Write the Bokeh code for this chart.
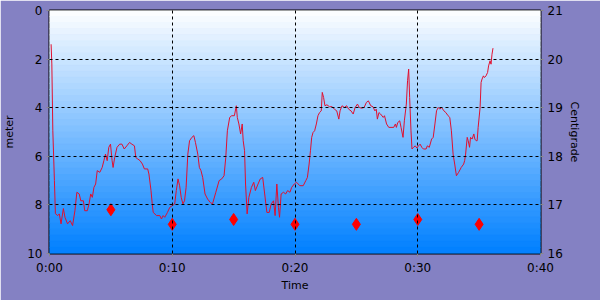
import numpy as np
from bokeh.plotting import figure
from bokeh.models import Range1d, LinearAxis, FixedTicker
from bokeh.embed import file_html
from bokeh.resources import INLINE

# depth profile (minutes, meters)
minutes = [0.13, 0.19, 0.27, 0.40, 0.48, 0.67, 0.80, 0.94, 1.13, 1.26, 1.47, 1.69, 1.88, 2.07, 2.23, 2.42,
           2.55, 2.76, 2.87, 3.08, 3.22, 3.36, 3.49, 3.62, 3.76, 3.89, 4.10, 4.29, 4.43, 4.56, 4.70, 4.83,
           4.97, 5.10, 5.18, 5.31, 5.50, 5.72, 5.90, 6.09, 6.30, 6.52, 6.71, 6.92, 7.03, 7.19, 7.38, 7.57,
           7.73, 8.00, 8.10, 8.27, 8.37, 8.45, 8.72, 8.99, 9.12, 9.26, 9.39, 9.61, 9.80, 10.00, 10.20, 10.33,
           10.47, 10.60, 10.73, 10.87, 11.00, 11.13, 11.27, 11.41, 11.60, 11.76, 11.89, 12.08, 12.21, 12.34,
           12.48, 12.67, 12.88, 13.10, 13.28, 13.55, 13.82, 14.03, 14.22, 14.36, 14.49, 14.68, 14.84, 15.06,
           15.22, 15.30, 15.43, 15.57, 15.70, 15.78, 15.89, 15.97, 16.10, 16.24, 16.45, 16.64, 16.77, 16.99,
           17.17, 17.37, 17.53, 17.71, 17.90, 18.06, 18.25, 18.38, 18.52, 18.65, 18.74, 18.87, 19.06, 19.24,
           19.40, 19.59, 19.73, 19.94, 20.13, 20.39, 20.67, 20.88, 21.01, 21.15, 21.26, 21.36, 21.47, 21.60,
           21.74, 21.87, 22.00, 22.14, 22.22, 22.33, 22.44, 22.60, 22.81, 23.03, 23.21, 23.40, 23.57, 23.67,
           23.83, 24.02, 24.21, 24.37, 24.56, 24.74, 24.90, 25.09, 25.23, 25.44, 25.63, 25.82, 25.98, 26.17,
           26.35, 26.51, 26.62, 26.71, 26.84, 26.97, 27.19, 27.29, 27.46, 27.64, 28.04, 28.18, 28.26, 28.37,
           28.53, 28.64, 28.80, 28.91, 29.07, 29.17, 29.26, 29.34, 29.45, 29.53, 29.66, 29.79, 29.93, 30.06,
           30.19, 30.33, 30.46, 30.68, 30.78, 30.94, 31.13, 31.26, 31.40, 31.53, 31.67, 31.80, 31.94, 32.13,
           32.29, 32.47, 32.61, 32.74, 32.88, 33.01, 33.15, 33.33, 33.54, 33.74, 33.82, 33.90, 34.03, 34.11,
           34.22, 34.30, 34.43, 34.57, 34.65, 34.76, 34.84, 34.92, 35.08, 35.16, 35.24, 35.35, 35.43, 35.56,
           35.69, 35.77, 35.89, 35.97, 36.05, 36.13]
depth = [1.39, 2.20, 4.95, 7.00, 8.36, 8.44, 8.37, 8.78, 8.15, 8.51, 8.78, 8.65, 8.85, 8.24, 7.48, 7.55,
         7.83, 7.83, 8.24, 8.24, 7.96, 7.55, 7.69, 7.28, 7.14, 6.59, 6.66, 6.46, 6.18, 5.91, 6.18, 5.63,
         5.50, 6.18, 6.46, 6.05, 5.63, 5.50, 5.50, 5.70, 5.57, 5.43, 5.50, 5.57, 6.05, 6.11, 6.18, 6.32,
         6.52, 6.52, 6.73, 7.41, 7.96, 8.31, 8.44, 8.44, 8.58, 8.44, 8.51, 8.31, 8.10, 8.03, 7.96, 7.41,
         6.93, 7.21, 7.69, 7.96, 7.83, 7.28, 5.91, 5.36, 5.22, 5.15, 5.43, 5.91, 6.46, 6.59,
         6.87, 7.55, 7.76, 7.90, 7.96, 7.48, 7.00, 6.93, 6.80, 6.05, 4.95, 4.40, 4.33, 4.33,
         3.92, 4.40, 4.67, 5.08, 4.67, 5.36, 5.77, 7.14, 8.37, 7.69, 7.28, 7.07, 7.41, 7.14,
         6.93, 6.87, 7.55, 8.31, 8.31, 7.96, 7.83, 8.44, 7.14, 8.10, 8.51, 7.55, 7.48, 7.55,
         7.41, 7.48, 7.28, 7.14, 7.07, 7.21, 7.21, 7.00, 6.87, 6.32, 5.77, 5.22, 5.02, 4.95,
         4.67, 4.33, 4.20, 4.13, 3.37, 3.58, 3.92, 3.88, 3.96, 3.96, 4.06, 4.13, 4.47, 4.13,
         3.92, 3.99, 3.92, 4.06, 4.13, 4.26, 3.99, 3.85, 3.99, 4.02, 3.99, 3.78, 3.72, 3.92,
         3.96, 4.13, 4.06, 4.47, 4.20, 4.26, 4.40, 4.33, 4.67, 4.81, 4.81, 4.67, 4.81, 4.61,
         4.54, 4.81, 5.22, 4.54, 3.85, 2.89, 2.41, 3.58, 4.95, 5.70, 5.63, 5.57, 5.66, 5.57,
         5.50, 5.63, 5.70, 5.70, 5.57, 5.63, 5.29, 5.22, 4.67, 4.13, 3.99, 4.06, 3.99, 4.13,
         4.20, 4.33, 4.40, 4.95, 5.91, 6.32, 6.80, 6.66, 6.46, 6.32, 6.18, 5.91, 5.22, 5.36,
         5.63, 5.22, 5.29, 5.08, 5.29, 5.36, 5.36, 4.81, 3.99, 2.96, 2.82, 2.69, 2.76, 2.69,
         2.55, 2.28, 2.07, 2.21, 1.80, 1.55]

# water temperature samples (minutes, centigrade)
temp_minutes = [5, 10, 15, 20, 25, 30, 35]
temperature = [16.9, 16.6, 16.7, 16.6, 16.6, 16.7, 16.6]

x_ticks = [0, 10, 20, 30, 40]
x_tick_labels = ["0:00", "0:10", "0:20", "0:30", "0:40"]
depth_ticks = [0, 2, 4, 6, 8, 10]
temp_ticks = [16, 17, 18, 19, 20, 21]

FONT = "DejaVu Sans"

p = figure(width=600, height=300, output_backend="svg", toolbar_location=None,
           x_range=Range1d(0, 40), y_range=Range1d(10, 0),
           min_border_left=45, min_border_right=60, min_border_top=10, min_border_bottom=47)
p.background_fill_color = "#8481C3"
p.border_fill_color = "#8481C3"
p.outline_line_color = "black"
p.outline_line_width = 2

# vertical gradient plot area background (white -> blue)
n_bands = 40
edges = np.linspace(0, 10, n_bands + 1)
top_rgb = np.array([255, 255, 255])
bot_rgb = np.array([0, 128, 255])
band_colors = []
for i in range(n_bands):
    f = (i + 0.5) / n_bands
    c = (top_rgb * (1 - f) + bot_rgb * f).astype(int)
    band_colors.append("#%02x%02x%02x" % tuple(c))
p.quad(left=0, right=40, top=edges[:-1], bottom=edges[1:], fill_color=band_colors,
       line_color=band_colors, line_width=1)

p.extra_y_ranges = {"temp": Range1d(16, 21)}

p.line(minutes, depth, line_color="#E0102F", line_width=1)
p.scatter(temp_minutes, temperature, y_range_name="temp", marker="diamond",
          size=12, fill_color="#FF0000", line_color="#FF0000")

# axes
p.xaxis.ticker = FixedTicker(ticks=x_ticks)
p.xaxis.major_label_overrides = {t: l for t, l in zip(x_ticks, x_tick_labels)}
p.xaxis.axis_label = "Time"
p.yaxis.ticker = FixedTicker(ticks=depth_ticks)
p.yaxis.axis_label = "meter"

right = LinearAxis(y_range_name="temp", ticker=FixedTicker(ticks=temp_ticks), axis_label="Centigrade")
p.add_layout(right, "right")

for ax in [p.xaxis[0], p.yaxis[0], right]:
    ax.axis_line_color = None
    ax.major_tick_line_color = "#888888"
    ax.major_tick_out = 3
    ax.major_tick_in = 0
    ax.minor_tick_line_color = None
    ax.major_label_text_font = FONT
    ax.major_label_text_font_size = "12px"
    ax.major_label_text_color = "black"
    ax.major_label_standoff = 4
    ax.axis_label_text_font = FONT
    ax.axis_label_text_font_size = "11px"
    ax.axis_label_text_font_style = "normal"
    ax.axis_label_text_color = "black"

p.xaxis[0].axis_label_standoff = 1
p.yaxis[0].axis_label_standoff = 8
right.axis_label_standoff = 2

p.xgrid.ticker = FixedTicker(ticks=[10, 20, 30])
p.ygrid.ticker = FixedTicker(ticks=[2, 4, 6, 8])
for g in [p.xgrid[0], p.ygrid[0]]:
    g.grid_line_color = "black"
    g.grid_line_dash = "3 3"
    g.grid_line_width = 1
    g.level = "overlay"

open("out.html", "w").write(file_html(p, INLINE))
